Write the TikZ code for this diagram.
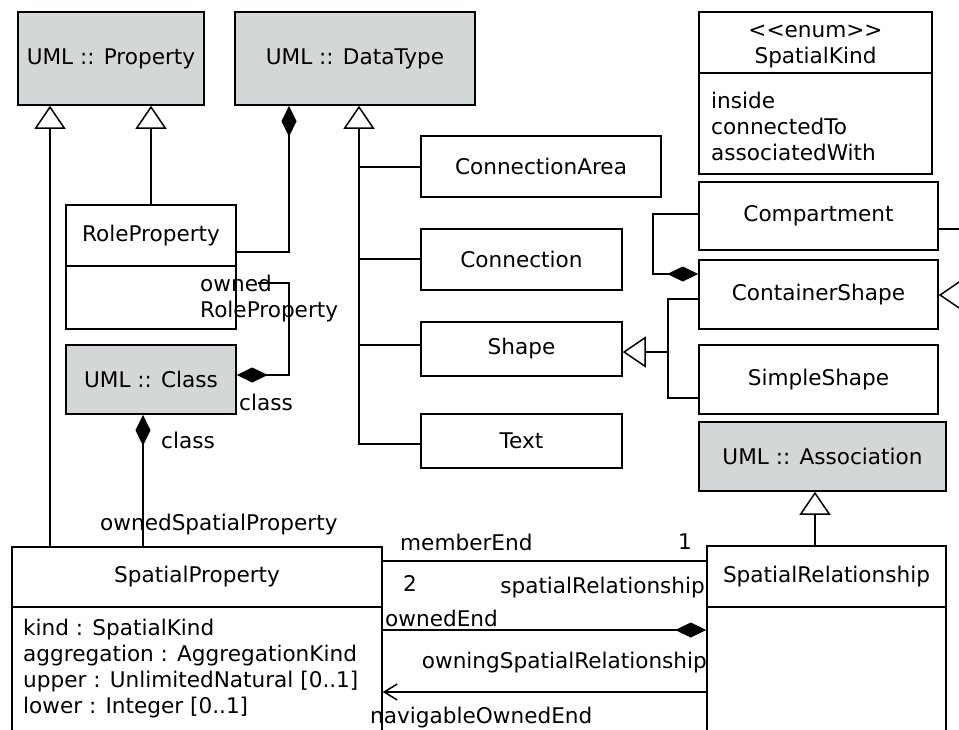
\documentclass[tikz,border=0pt]{standalone}
\usepackage{fontspec}
\setmainfont{DejaVu Sans}
\usetikzlibrary{arrows.meta}
\definecolor{umlgrey}{HTML}{D4D7D8}

\tikzset{
  umlclass/.style={draw, line width=1.5pt, inner sep=0pt},
  umlext/.style={umlclass, fill=umlgrey},
  role/.style={inner sep=0pt},
  conn/.style={line width=1.5pt},
  gen/.style={conn, -{Triangle[open, length=23pt, width=31pt]}},
  comp/.style={conn, -{Diamond[length=31pt, width=15pt]}},
  nav/.style={conn, -{Straight Barb[length=13pt, width=16pt]}},
}

\begin{document}
\begin{tikzpicture}[x=1pt, y=-1pt, font=\fontsize{21.6}{26}\selectfont]
    \useasboundingbox (0,0) rectangle (959,729);
    \clip (0,0) rectangle (959,729);

    % UML metaclasses
    \node[umlext, minimum width=186pt, minimum height=93pt] (prop) at (111,58.5) {UML :: Property};
    \node[umlext, minimum width=240pt, minimum height=93pt] (dt) at (355,58.5) {UML :: DataType};
    \node[umlext, minimum width=170pt, minimum height=69pt] (cls) at (151,379.5) {UML :: Class};
    \node[umlext, minimum width=247pt, minimum height=69pt] (assoc) at (822.5,456.5) {UML :: Association};

    % Enumeration
    \node[umlclass, minimum width=233pt, minimum height=61pt] (kindhead) at (815.5,42.5) {};
    \node[role, align=center] (kindtitle) at (815.5,46) {<{}<enum>{}>\\SpatialKind};
    \node[umlclass, minimum width=233pt, minimum height=101pt] (kindbody) at (815.5,123.5) {};
    \node[role, anchor=west, align=left] (kindvals) at (711,126) {inside\\connectedTo\\associatedWith};

    % Data types
    \node[umlclass, minimum width=240pt, minimum height=61pt] (ca) at (541,166.5) {ConnectionArea};
    \node[umlclass, minimum width=201pt, minimum height=61pt] (con) at (521.5,259.5) {Connection};
    \node[umlclass, minimum width=201pt, minimum height=54pt] (sh) at (521.5,349) {Shape};
    \node[umlclass, minimum width=201pt, minimum height=54pt] (txt) at (521.5,441) {Text};
    \node[umlclass, minimum width=239pt, minimum height=68pt] (cmp) at (818.5,216) {Compartment};
    \node[umlclass, minimum width=239pt, minimum height=69pt] (cs) at (818.5,294.5) {ContainerShape};
    \node[umlclass, minimum width=239pt, minimum height=69pt] (ss) at (818.5,379.5) {SimpleShape};

    % Role property
    \node[umlclass, minimum width=170pt, minimum height=61pt] (rp) at (151,235.5) {RoleProperty};
    \node[umlclass, minimum width=170pt, minimum height=63pt] (rpbody) at (151,297.5) {};

    % Spatial property and relationship
    \node[umlclass, minimum width=370pt, minimum height=60pt] (sp) at (197,577) {SpatialProperty};
    \node[umlclass, minimum width=370pt, minimum height=153pt] (spbody) at (197,683.5) {};
    \node[role, anchor=west, align=left] (spattrs) at (23,669) {kind : SpatialKind\\aggregation : AggregationKind\\upper : UnlimitedNatural [0..1]\\lower : Integer [0..1]};
    \node[umlclass, minimum width=239pt, minimum height=61pt] (sr) at (826.5,576.5) {SpatialRelationship};
    \node[umlclass, minimum width=239pt, minimum height=153pt] (srbody) at (826.5,683.5) {};

    % Generalizations
    \draw[gen] (50,0 |- sp.north) -- (50,0 |- prop.south);
    \draw[gen] (rp.north) -- (rp.north |- prop.south);
    \draw[gen] (txt.west |- 0,444) -| (dt.south -| 359,0);
    \draw[conn] (ca.west |- 0,167) -- (359,167);
    \draw[conn] (con.west |- 0,259) -- (359,259);
    \draw[conn] (sh.west |- 0,345) -- (359,345);
    \draw[gen] (ss.west |- 0,398) -| (668,352) -- (sh.east |- 0,352);
    \draw[conn] (cs.west |- 0,299) -| (668,352);
    \draw[gen] (cmp.east |- 0,229) -- (980,229) -- (980,295) -- (cs.east |- 0,295);
    \draw[gen] (815,0 |- sr.north) -- (815,0 |- assoc.south);

    % Compositions
    \draw[comp] (rp.east |- 0,252) -| (dt.south -| 289,0);
    \coordinate (ownedstart) at (258,283);
    \draw[comp] (ownedstart) -| (289,375) -- (cls.east |- 0,375);
    \draw[comp] (143,0 |- sp.north) -- (143,0 |- cls.south);
    \draw[comp] (cmp.west |- 0,214) -| (653,274) -- (cs.west |- 0,274);
    \draw[comp] (sp.east |- 0,630) -- (srbody.west |- 0,630);

    % Associations
    \draw[conn] (sp.east |- 0,561) -- (sr.west |- 0,561);
    \draw[nav] (srbody.west |- 0,692) -- (spbody.east |- 0,692);

    % Role labels
    \node[role, anchor=west, align=left] (lblownedrp) at (200,299) {owned\\RoleProperty};
    \node[role, anchor=west] (lblclassa) at (239,402) {class};
    \node[role, anchor=west] (lblclassb) at (161,440) {class};
    \node[role, anchor=west] (lblownedsp) at (100,525) {ownedSpatialProperty};
    \node[role, anchor=west] (lblmember) at (400,542) {memberEnd};
    \node[role] (lblone) at (685,542) {1};
    \node[role, anchor=west] (lbltwo) at (403,583) {2};
    \node[role, anchor=east] (lblsprel) at (705,588) {spatialRelationship};
    \node[role, anchor=west] (lblownedend) at (385,618) {ownedEnd};
    \node[role, anchor=east] (lblowning) at (707,663) {owningSpatialRelationship};
    \node[role, anchor=west] (lblnav) at (370,718) {navigableOwnedEnd};
\end{tikzpicture}
\end{document}
